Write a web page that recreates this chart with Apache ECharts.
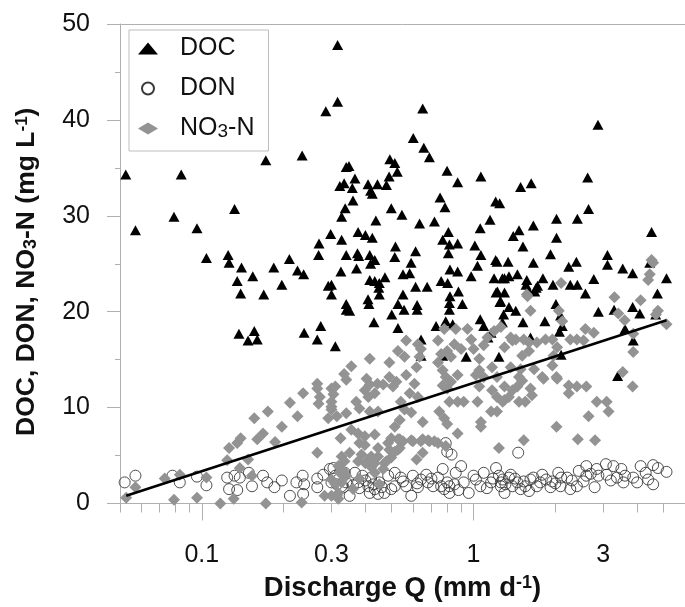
<!DOCTYPE html>
<html><head><meta charset="utf-8">
<script src="https://cdn.jsdelivr.net/npm/echarts@6/dist/echarts.min.js"></script>
<style>html,body{margin:0;padding:0;background:#fff}#c{width:685px;height:607px}</style>
</head><body><div id="c"></div>
<script>
// ---- data: [discharge Q (mm/d), concentration (mg/L)] ----
const docData = [
[0.0525,34.3],[0.057,28.5],[0.079,29.9],[0.084,34.3],[0.096,28.7],[0.104,25.6],[0.125,25.9],[0.126,25.1],[0.132,30.7],[0.135,23.2],
[0.139,21.9],[0.14,24.6],[0.154,23.7],[0.169,21.8],[0.172,35.8],[0.184,24.6],[0.197,22.8],[0.21,25.5],[0.225,24.3],[0.234,36.3],
[0.237,23.9],[0.27,27.1],[0.269,25.9],[0.286,40.9],[0.298,28.1],[0.292,22.7],[0.30,21.8],[0.316,47.8],[0.316,41.9],[0.327,27.5],
[0.325,24.2],[0.334,33.4],[0.322,33.1],[0.337,30.8],[0.327,29.9],[0.34,35.1],
[0.137,17.7],[0.148,17.0],[0.156,18.0],[0.16,17.1],[0.238,17.8],[0.266,17.1],[0.274,18.5],[0.31,16.4],
[0.65,41.2],[0.60,38.1],[0.656,37.1],[0.688,36.1],[0.799,34.7],[0.874,33.5],[1.064,34.1],[1.206,31.5],[1.248,31.3],[1.15,29.6],
[1.058,28.7],[1.011,26.9],[1.064,25.9],[1.034,24.8],[0.98,23.7],[1.206,25.4],[1.19,23.5],[1.277,23.5],[1.224,22.1],[1.258,21.1],
[0.348,35.2],[0.366,33.9],[0.358,32.9],[0.36,31.6],
[0.409,33.3],[0.443,33.3],[0.478,33.2],[0.418,32.6],[0.424,32.3],[0.492,35.9],[0.513,35.5],[0.524,34.6],[0.489,34.1],[0.498,30.8],
[0.545,30.1],[0.437,29.5],[0.633,29.2],[0.718,29.4],[0.753,31.9],[0.785,30.9],
[0.376,28.3],[0.40,28.0],[0.424,27.7],[0.516,26.8],[0.513,25.7],[0.612,26.3],[0.589,25.1],[0.582,24.0],[0.55,23.9],[0.808,28.3],
[0.77,27.5],[0.815,27.0],[0.874,27.1],[0.808,26.1],[0.819,24.4],[0.874,24.2],[0.76,23.2],[0.803,23.0],[0.88,22.1],[0.819,21.6],
[0.34,25.9],[0.374,26.1],[0.378,25.8],[0.415,25.9],[0.433,25.4],[0.418,25.0],[0.371,24.5],[0.415,23.3],[0.433,23.2],[0.45,23.0],
[0.472,23.6],[0.448,22.5],[0.45,21.8],[0.409,21.3],[0.412,20.8],[0.30,22.8],[0.34,20.8],[0.55,21.8],[0.527,20.8],[0.612,22.6],
[0.675,22.6],[0.62,20.7],
[2.87,39.5],[1.49,33.0],[1.63,33.4],[2.63,34.0],[2.65,30.7],[2.41,29.7],[2.02,29.7],[2.02,27.7],[1.66,29.0],[1.47,28.5],
[1.40,27.9],[1.52,26.8],[1.92,26.0],[4.52,28.3],[3.11,25.9],[3.11,24.9],[3.54,24.5],[3.85,24.0],[5.13,23.5],[4.75,21.9],
[4.45,25.1],[2.39,25.2],[2.24,24.7],[2.77,23.4],[2.58,21.9],[2.41,22.8],[2.27,22.8],[1.96,22.8],[1.80,23.5],[1.66,25.1],
[1.70,22.5],[1.57,23.3],[1.45,23.9],[1.35,23.7],[1.30,23.5],[1.22,25.2],[1.34,25.2],[1.21,22.0],[1.30,22.0],
[1.68,22.1],[1.56,22.8],[1.59,22.3],[1.43,20.1],[1.29,19.7],[1.277,18.9],[1.52,18.9],[1.83,19.0],[2.88,20.0],[3.29,20.2],
[3.85,20.5],[4.09,19.8],[4.68,19.7],[2.01,20.8],[2.09,19.6],[2.12,18.5],[2.07,17.9],[1.62,17.3],[3.61,18.2],[3.87,17.0],
[2.10,15.5],[3.39,13.3],[1.24,15.3],
[0.43,18.9],[0.527,18.3],[0.34,20.2],[0.35,20.1],[0.50,19.7],[0.555,20.2],[0.62,20.2],[0.641,17.1],[0.641,15.4],[0.728,18.5],
[0.79,19.0],[0.838,18.7],[0.815,20.2],[0.815,20.9],[0.91,20.8],[1.058,19.2],[1.09,18.5],[1.13,17.3],[1.16,17.8],[0.77,15.4],
[0.94,15.3],[1.72,22.7],[1.25,21.0],[1.35,20.5]
];
const donData = [
[0.052,2.2],[0.057,2.9],[0.078,2.9],[0.083,2.2],[0.096,2.8],[0.104,1.9],[0.124,2.7],[0.132,2.9],[0.138,2.7],[0.149,3.2],
[0.126,1.5],[0.135,1.4],[0.153,1.8],[0.168,2.9],[0.174,2.2],[0.185,1.7],[0.197,2.4],[0.211,0.8],[0.223,2.2],[0.235,2.9],
[0.238,2.0],[0.236,1.0],[0.266,2.6],[0.266,1.7],[0.28,3.0],[0.296,3.6],[0.30,2.2],[0.31,2.9],
[0.79,6.3],[0.80,5.4],[0.815,1.1],[0.83,5.1],[0.305,3.7],[0.318,2.5],[0.327,1.8],[0.35,0.8],[0.39,2.9],[0.41,1.8],
[0.433,1.5],[0.45,2.2],[0.47,1.1],[0.513,1.8],[0.54,2.7],[0.565,1.8],[0.598,2.9],[0.624,1.7],[0.67,3.0],[0.68,2.2],
[0.74,2.7],[0.76,1.8],[0.80,2.2],[0.86,3.2],[0.90,3.9],[0.92,2.2],[0.96,1.1],[1.02,2.5],[1.06,1.8],[1.09,3.2],
[1.16,2.2],[1.21,3.7],[1.24,2.9],[1.26,1.8],[1.30,1.1],[0.366,3.2],[0.376,2.2],[0.336,3.2],[0.42,2.7],[0.485,2.9],
[0.498,1.5],[0.59,0.8],[0.64,2.5],[0.71,1.8],[0.77,3.6],[0.513,3.2],[0.314,2.0],[0.332,1.7],[0.34,2.2],[0.415,1.1],
[0.445,1.0],[0.428,2.0],[0.78,1.5],[0.815,1.8],[1.31,2.0],[1.28,2.5],[1.39,1.8],[1.49,1.5],[1.53,2.3],[1.37,3.0],
[1.46,5.3],[1.79,3.0],[2.05,3.2],[2.1,2.7],[2.44,3.4],[2.6,3.9],[2.84,3.6],[3.07,4.1],[3.27,3.9],[2.6,2.9],
[2.40,1.8],[2.79,1.7],[2.54,2.3],[2.27,1.5],[2.09,1.8],[1.92,1.7],[1.95,2.3],[2.21,2.7],[2.88,2.9],[3.37,2.7],
[3.56,2.2],[3.61,2.9],[3.87,2.7],[4.12,3.9],[4.58,4.0],[4.77,3.7],[5.13,3.3],[4.39,2.5],[4.58,2.0],[1.76,2.2],
[1.62,2.5],[1.55,1.8],[1.45,2.2],[1.35,2.7],[1.26,2.2],[1.60,1.3],[1.71,1.8],[3.09,3.0],
[0.36,1.9],[0.38,1.6],[0.40,2.4],[0.46,1.7],[0.55,2.3],[0.62,2.1],[0.70,2.6],[0.85,2.0],[0.88,1.4],[1.0,2.9],
[1.12,1.6],[1.18,2.6],[1.42,2.6],[1.66,2.7],[1.85,2.5],[2.0,2.1],[2.3,2.4],[2.7,3.1],[3.2,2.4],[3.5,3.6],[4.0,2.2],[4.3,3.2]
];
const no3Data = [
[0.0527,0.6],[0.057,1.7],[0.073,2.6],[0.079,0.4],[0.083,3.0],[0.096,0.6],[0.104,2.7],[0.117,0.0],[0.124,4.5],[0.126,5.8],
[0.131,0.5],[0.135,6.3],[0.138,3.7],[0.139,6.8],[0.148,4.6],[0.153,2.9],[0.156,8.9],[0.16,6.7],[0.168,7.3],[0.172,0.0],
[0.175,9.6],[0.186,6.4],[0.197,8.0],[0.211,10.5],[0.225,9.1],[0.233,0.1],[0.236,11.5],[0.266,12.5],[0.266,12.0],[0.272,11.1],
[0.269,10.4],[0.266,5.3],[0.283,0.8],[0.292,8.9],[0.30,12.0],[0.30,10.1],[0.30,0.8],
[0.334,13.5],[0.34,12.9],[0.324,6.8],[0.34,9.4],[0.30,2.5],[0.318,1.1],[0.335,4.4],[0.322,3.2],
[0.415,15.1],[0.355,14.3],[0.31,12.2],[0.305,11.4],[0.30,10.6],[0.30,9.8],[0.404,13.0],[0.415,12.4],[0.443,12.5],[0.465,12.4],
[0.398,11.8],[0.433,11.5],[0.41,11.1],[0.37,10.6],[0.38,9.9],[0.415,9.6],[0.445,9.6],[0.314,9.1],[0.355,7.7],[0.376,7.3],
[0.398,7.0],[0.433,7.2],[0.38,6.3],[0.398,6.1],[0.327,4.9],[0.318,3.9],[0.332,3.4],[0.387,5.1],[0.41,4.6],[0.433,4.2],
[0.445,4.9],[0.47,4.2],
[0.49,14.7],[0.527,15.9],[0.557,15.3],[0.49,13.2],[0.52,12.7],[0.505,12.2],[0.565,13.4],[0.606,12.5],[0.582,11.5],[0.624,11.1],
[0.54,10.6],[0.557,9.8],[0.59,9.5],[0.535,8.7],[0.513,8.0],[0.498,6.8],[0.527,6.7],[0.55,6.5],[0.49,5.6],[0.527,5.6],
[0.498,4.8],[0.478,4.4],[0.598,6.5],[0.65,6.7],[0.688,6.5],[0.65,8.5],[0.748,9.6],[0.78,8.9],[0.80,8.3],[0.874,7.3],
[0.79,6.0],[0.74,6.3],
[0.624,16.6],[0.64,16.1],[0.633,15.3],[0.617,14.2],[0.74,17.0],[0.80,15.9],[0.826,15.3],[0.78,18.2],[0.86,18.2],[0.95,18.2],
[0.74,14.7],[0.77,13.9],[0.79,13.2],[0.826,12.7],[0.874,13.4],[0.77,12.3],[0.80,12.0],[0.815,10.6],[0.874,10.6],[0.92,10.6],
[0.98,17.1],[1.0,16.1],[1.05,15.1],[1.05,13.9],[1.09,13.2],[1.02,13.4],[1.05,12.2],[1.034,10.6],[1.064,8.5],[1.064,8.0],
[1.19,18.0],[1.26,18.4],[1.17,14.2],[1.22,13.2],[1.17,11.8],[1.22,11.1],[1.28,10.6],[1.16,9.6],[1.22,9.6],[1.24,5.8],
[0.565,17.0],[0.76,15.6],[0.85,16.6],[0.9,16.1],[1.09,16.5],[1.125,17.3],[1.39,17.0],[0.35,5.3],[0.376,4.4],[0.40,4.2],
[0.42,4.9],[0.445,5.8],[0.485,6.3],[0.513,5.4],[0.465,3.6],[0.433,3.2],[0.535,6.7],[0.59,6.6],[0.64,6.5],[0.68,6.6],
[0.718,6.5],[0.617,4.6],[0.65,5.3],[0.535,5.8],[0.314,0.8],[0.327,2.2],[0.34,2.9],
[0.36,1.5],[0.38,2.6],[0.42,3.8],[0.45,2.0],[0.31,2.0],[0.318,0.5],
[1.58,21.6],[1.62,20.1],[2.06,20.1],[2.12,19.0],[3.3,21.5],[4.12,21.2],[4.77,20.1],[4.69,19.7],[5.13,18.7],[3.41,19.8],
[3.6,19.1],[3.87,17.7],[3.87,15.8],[3.54,13.7],[3.85,12.2],[2.58,18.2],[2.77,17.8],[2.27,17.1],[2.40,17.1],[2.54,17.0],
[1.95,17.1],[1.84,17.1],[2.03,16.3],[1.71,16.8],[1.60,16.8],[1.53,17.1],[1.43,17.1],[1.37,17.3],[1.30,16.3],[1.51,15.4],
[1.60,15.9],[1.95,14.4],[1.81,13.0],[2.03,13.0],[1.67,14.0],[1.49,14.0],[1.37,14.2],[2.24,12.3],[2.40,12.2],[2.6,12.2],
[2.24,11.5],[1.51,12.8],[1.45,12.2],[1.39,11.8],[1.30,12.2],[1.62,12.0],[1.64,11.3],[1.55,10.6],[1.47,10.6],[1.35,11.1],
[1.30,10.8],[2.84,10.6],[3.09,10.6],[3.14,9.6],[2.65,9.1],[2.02,8.0],[1.53,6.6],[2.42,6.7],[2.80,6.6],
[2.1,23.0],[1.57,21.8],[4.52,25.4],[4.58,25.1],[4.45,23.9],[4.39,23.3],[1.97,15.4],[2.02,13.2],[1.79,13.2],[1.47,13.2]
];
// regression line NO3-N vs log Q (end points)
const fitLine = [[0.0527,0.8],[5.13,19.1]];

// ---- axis ticks / labels ----
const xLabelValues = [0.1, 0.3, 1, 3];
const xMajorTicks = [0.1, 1];
const xMinorTicks = [0.05,0.06,0.07,0.08,0.09,0.2,0.3,0.4,0.5,0.6,0.7,0.8,0.9,2,3,4,5,6];
const xMin = 0.05, xMax = 6;
const yMin = 0, yMax = 50, yStep = 10;
const seriesNames = ['DOC', 'DON', 'NO3-N'];

const FONT = '"Liberation Sans", Arial, Helvetica, sans-serif';
const AX = '#b0b0b0';
const TXT = '#111';

const chart = echarts.init(document.getElementById('c'), null, {renderer: 'canvas'});
const option = {
  animation: false,
  backgroundColor: '#fff',
  grid: {left: 120, top: 24, width: 569, height: 484, containLabel: false},
  legend: {
    orient: 'vertical', left: 129, top: 30,
    padding: [6, 14, 10, 9], itemGap: 15, itemWidth: 20, itemHeight: 12,
    borderColor: '#bdbdbd', borderWidth: 1, borderRadius: 0, backgroundColor: '#fff',
    data: seriesNames,
    formatter: n => n === 'NO3-N' ? 'NO{sub|3}-N' : n,
    textStyle: {fontFamily: FONT, fontSize: 25, color: TXT, lineHeight: 25, padding: [0, 0, 0, 17],
      rich: {sub: {fontFamily: FONT, fontSize: 19, color: TXT, lineHeight: 8, verticalAlign: 'bottom'}}}
  },
  xAxis: [
    {
      type: 'log', logBase: 1.1, min: xMin, max: xMax, position: 'bottom',
      axisLine: {show: true, onZero: false, lineStyle: {color: AX, width: 1}},
      axisTick: {show: true, customValues: xMinorTicks, length: 9, lineStyle: {color: AX}},
      axisLabel: {customValues: xLabelValues, formatter: v => String(+(+v).toPrecision(3)),
        fontFamily: FONT, fontSize: 25, color: TXT, margin: 39},
      splitLine: {show: false}, minorTick: {show: false}, minorSplitLine: {show: false},
      name: 'Discharge Q (mm d{sup|-1})', nameLocation: 'middle', nameGap: 71,
      nameTextStyle: {fontFamily: FONT, fontSize: 27.5, fontWeight: 'bold', color: TXT, lineHeight: 27,
        rich: {sup: {fontFamily: FONT, fontSize: 18, fontWeight: 'bold', color: TXT, lineHeight: 8, verticalAlign: 'top'}}}
    },
    {
      type: 'log', logBase: 1.1, min: xMin, max: xMax, position: 'bottom',
      axisLine: {show: false, onZero: false},
      axisTick: {show: true, customValues: xMajorTicks, length: 17, lineStyle: {color: AX}},
      axisLabel: {show: false}, splitLine: {show: false}
    },
    {
      type: 'value', min: 0, max: 1, position: 'top',
      axisLine: {show: true, onZero: false, lineStyle: {color: AX, width: 1}},
      axisTick: {show: false}, axisLabel: {show: false}, splitLine: {show: false}
    }
  ],
  yAxis: {
    type: 'value', min: yMin, max: yMax, interval: yStep,
    axisLine: {show: true, onZero: false, lineStyle: {color: AX, width: 1}},
    axisTick: {show: true, length: 13, lineStyle: {color: AX}},
    minorTick: {show: true, splitNumber: 2, length: 5, lineStyle: {color: AX}},
    splitLine: {show: false}, minorSplitLine: {show: false},
    axisLabel: {fontFamily: FONT, fontSize: 25, color: TXT, margin: 30},
    name: 'DOC, DON, NO{sub|3}-N (mg L{sup|-1})', nameLocation: 'middle', nameGap: 80, nameRotate: 90,
    nameTextStyle: {fontFamily: FONT, fontSize: 26.5, fontWeight: 'bold', color: TXT, lineHeight: 26,
      padding: [0, 16, 0, 0],
      rich: {
        sub: {fontFamily: FONT, fontSize: 18, fontWeight: 'bold', color: TXT, lineHeight: 8, verticalAlign: 'bottom'},
        sup: {fontFamily: FONT, fontSize: 17, fontWeight: 'bold', color: TXT, lineHeight: 8, verticalAlign: 'top'}
      }}
  },
  series: [
    {name: 'DOC', type: 'scatter', xAxisIndex: 0, data: docData, symbol: 'triangle', symbolSize: [11, 10],
      itemStyle: {color: '#000', opacity: 1}},
    {name: 'DON', type: 'scatter', xAxisIndex: 0, data: donData, symbol: 'circle', symbolSize: 11,
      itemStyle: {color: 'rgba(255,255,255,0)', borderColor: '#3a3a3a', borderWidth: 0.9, opacity: 1}},
    {name: 'NO3-N', type: 'scatter', xAxisIndex: 0, data: no3Data, symbol: 'diamond', symbolSize: 12,
      itemStyle: {color: '#939393', opacity: 1}},
    {name: 'fit', type: 'line', xAxisIndex: 0, data: fitLine, showSymbol: false, symbol: 'none',
      lineStyle: {color: '#000', width: 2.6}, z: 5, silent: true}
  ]
};
chart.setOption(option);
</script>
</body></html>
